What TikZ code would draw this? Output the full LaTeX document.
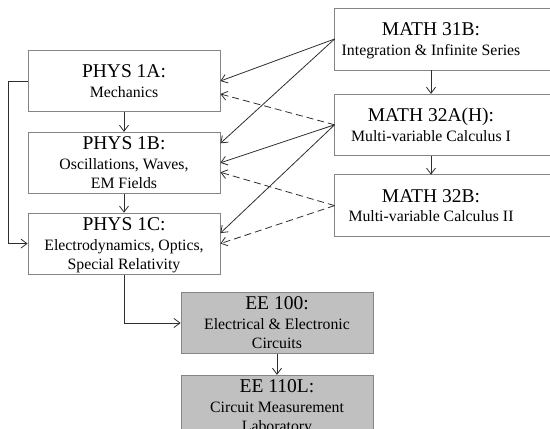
\documentclass[tikz,border=0pt]{standalone}
\usepackage{fontspec}
\setmainfont{Liberation Serif}
\usetikzlibrary{calc, positioning, arrows.meta}
\definecolor{edge}{HTML}{858585}
\definecolor{wire}{HTML}{2E2E2E}
\definecolor{shade}{HTML}{C0C0C0}
\newcommand{\coursetitle}[1]{{\fontsize{19.5}{19.5}\selectfont #1}}

\begin{document}
\begin{tikzpicture}[x=1pt, y=-1pt, font=\fontsize{15.8}{19.5}\selectfont,
    >={Straight Barb[length=6pt,width=9pt]},
    course/.style={draw=edge, line width=0.8pt, fill=white, align=center,
                   minimum width=192pt, minimum height=61pt, inner sep=1pt,
                   text depth=0pt},
    mathcourse/.style={course, draw=none, fill=none},
    eecourse/.style={course, fill=shade},
    link/.style={->, draw=wire, line width=0.8pt},
    weak/.style={link, dash pattern=on 7pt off 4pt}]
    \clip (0,0) rectangle (550,429);
    % physics sequence
    \node[course] (p1a) at (124,81) {\coursetitle{PHYS 1A:}\\Mechanics};
    \node[course, below=20pt of p1a] (p1b)
      {\coursetitle{PHYS 1B:}\\Oscillations, Waves,\\EM Fields};
    \node[course, below=19pt of p1b] (p1c)
      {\coursetitle{PHYS 1C:}\\Electrodynamics, Optics,\\Special Relativity};
    % math sequence (boxes run off the right edge)
    \node[mathcourse] (m31) at (431,39)
      {\coursetitle{MATH 31B:}\\Integration \& Infinite Series};
    \node[mathcourse, below=24pt of m31] (m32a)
      {\coursetitle{MATH 32A(H):}\\Multi-variable Calculus I};
    \node[mathcourse, below=19pt of m32a] (m32b)
      {\coursetitle{MATH 32B:}\\Multi-variable Calculus II};
    \foreach \m in {m31, m32a, m32b}
      \draw[draw=edge, line width=0.8pt] (\m.south west) rectangle ($(\m.north east)+(40,0)$);
    % electrical engineering
    \node[eecourse] (ee100) at (277,323)
      {\coursetitle{EE 100:}\\Electrical \& Electronic\\Circuits};
    \node[eecourse, below=21pt of ee100] (ee110)
      {\coursetitle{EE 110L:}\\Circuit Measurement\\Laboratory};
    % prerequisites
    \draw[link] (p1a) -- (p1b);
    \draw[link] (p1b) -- (p1c);
    \draw[link] (m31) -- (m32a);
    \draw[link] (m32a) -- (m32b);
    \draw[link] (ee100) -- (ee110);
    \draw[link] (p1a.west) -- ++(-19,0) |- (p1c.west);
    \draw[link] (p1c.south) |- (ee100.west);
    \draw[link] (m31.west) -- (p1a.east);
    \draw[link] (m31.west) -- ([yshift=19.5pt]p1b.east);
    \draw[weak] (m32a.west) -- ([yshift=-13pt]p1a.east);
    \draw[link] (m32a.west) -- (p1b.east);
    \draw[link] (m32a.west) -- ([yshift=10.5pt]p1c.east);
    \draw[weak] (m32b.west) -- ([yshift=-9.5pt]p1b.east);
    \draw[weak] (m32b.west) -- (p1c.east);
\end{tikzpicture}
\end{document}
